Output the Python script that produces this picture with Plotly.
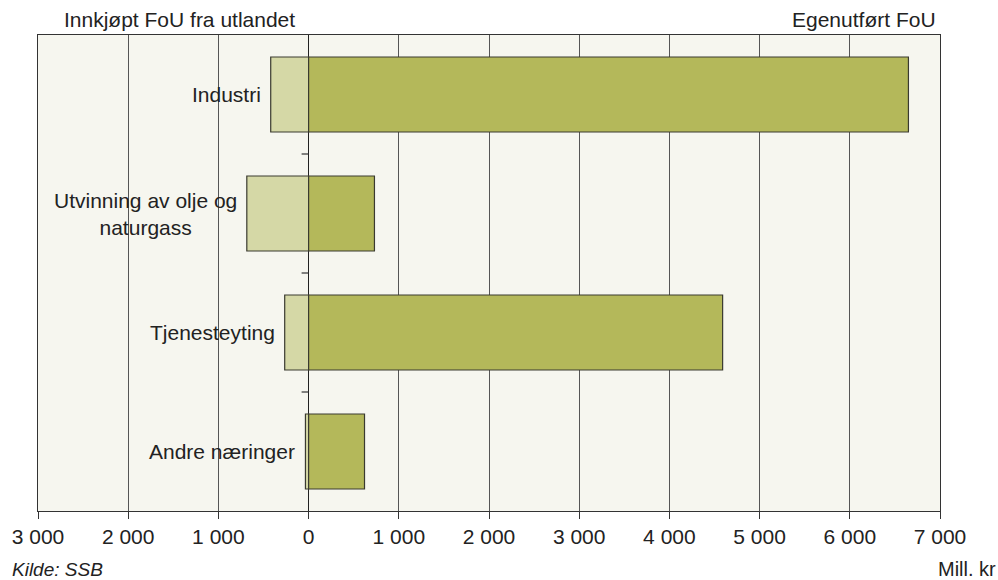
import plotly.graph_objects as go

categories = ["Industri", "Utvinning av olje og<br>naturgass", "Tjenesteyting", "Andre næringer"]
innkjopt = [420, 685, 265, 35]        # Innkjøpt FoU fra utlandet (shown to the left)
egenutfort = [6650, 730, 4590, 620]   # Egenutført FoU
tick_vals = [-3000, -2000, -1000, 0, 1000, 2000, 3000, 4000, 5000, 6000, 7000]
tick_text = ["3 000", "2 000", "1 000", "0", "1 000", "2 000", "3 000", "4 000", "5 000", "6 000", "7 000"]

FONT = "Liberation Sans, Arial, sans-serif"
y_idx = list(range(len(categories)))

fig = go.Figure()
fig.add_trace(go.Bar(
    y=y_idx, x=[-v for v in innkjopt], orientation="h", width=0.63,
    marker=dict(color="#d5d8a6", line=dict(color="#3a3a30", width=1.2)),
    name="Innkjøpt FoU fra utlandet", showlegend=False, hoverinfo="skip"))
fig.add_trace(go.Bar(
    y=y_idx, x=egenutfort, orientation="h", width=0.63,
    marker=dict(color="#b4b85a", line=dict(color="#3a3a30", width=1.2)),
    name="Egenutført FoU", showlegend=False, hoverinfo="skip"))

annotations = []
for i, (c, v) in enumerate(zip(categories, innkjopt)):
    annotations.append(dict(x=-v, y=i, xref="x", yref="y", text=c, showarrow=False,
                            xanchor="right", yanchor="middle", xshift=-8, align="center",
                            font=dict(family=FONT, size=21, color="#222")))
annotations += [
    dict(x=0.027, y=1.0, xref="paper", yref="paper", text="Innkjøpt FoU fra utlandet",
         showarrow=False, xanchor="left", yanchor="bottom", yshift=2,
         font=dict(family=FONT, size=21, color="#222")),
    dict(x=1.0, y=1.0, xref="paper", yref="paper", text="Egenutført FoU",
         showarrow=False, xanchor="right", yanchor="bottom", xshift=-2, yshift=2,
         font=dict(family=FONT, size=21, color="#222")),
    dict(x=0, y=0, xref="paper", yref="paper", text="<i>Kilde: SSB</i>",
         showarrow=False, xanchor="left", yanchor="top", xshift=-28, yshift=-46,
         font=dict(family=FONT, size=19, color="#222")),
    dict(x=1.0, y=0, xref="paper", yref="paper", text="Mill. kr",
         showarrow=False, xanchor="right", yanchor="top", xshift=58, yshift=-45,
         font=dict(family=FONT, size=20, color="#222")),
]

shapes = []
for i in range(len(categories) - 1):
    shapes.append(dict(type="line", xref="x", yref="y", xsizemode="pixel", xanchor=0,
                       x0=-7, x1=0, y0=i + 0.5, y1=i + 0.5,
                       line=dict(color="#333", width=1.2)))

fig.update_layout(
    width=998, height=580,
    margin=dict(l=35, r=58, t=35, b=69),
    paper_bgcolor="white", plot_bgcolor="#f6f6ef",
    barmode="relative", bargap=0.37,
    annotations=annotations, shapes=shapes,
    font=dict(family=FONT, size=21, color="#222"),
    xaxis=dict(range=[-3000, 7000], tickvals=tick_vals, ticktext=tick_text,
               showgrid=True, gridcolor="#555", gridwidth=1,
               zeroline=True, zerolinecolor="#222", zerolinewidth=1.3,
               showline=True, linecolor="#333", linewidth=1.2, mirror=True,
               ticks="outside", ticklen=7, tickcolor="#333",
               tickfont=dict(family=FONT, size=21, color="#222")),
    yaxis=dict(range=[3.5, -0.5], showticklabels=False, showgrid=False, zeroline=False,
               showline=True, linecolor="#333", linewidth=1.2, mirror=True, ticks=""),
)

fig.write_html("out.html", config={"displayModeBar": False},
               post_script="document.body.style.margin='0';")
